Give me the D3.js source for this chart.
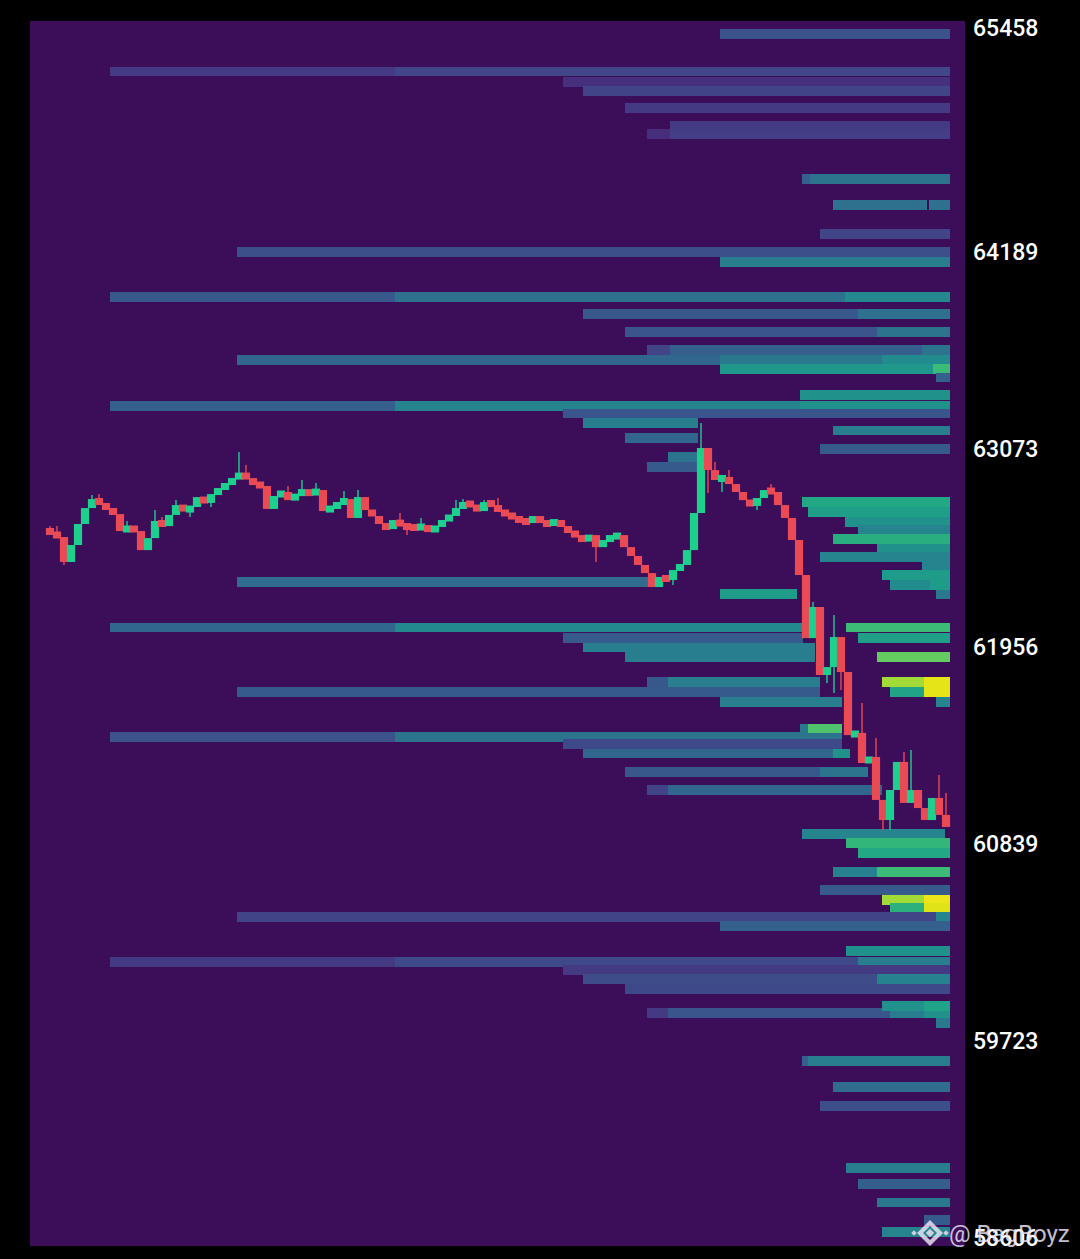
<!DOCTYPE html>
<html>
<head>
<meta charset="utf-8">
<script src="https://cdn.jsdelivr.net/npm/d3@7"></script>
<style>
  html, body { margin: 0; padding: 0; background: #000; }
  svg { display: block; }
</style>
</head>
<body>
<svg id="chart" width="1080" height="1259"></svg>
<script>
// ---------------- DATA ----------------
// Price axis tick labels
const priceTicks = [65458, 64189, 63073, 61956, 60839, 59723, 58606];

// Candles (one per time step)
const opens = [
  62612,62595,62572,62431,62527,62646,62736,62787,62759,62731,
  62702,62606,62629,62606,62498,62566,62663,62634,62697,62753,
  62719,62742,62798,62765,62815,62844,62872,62900,62934,62900,
  62872,62861,62731,62804,62827,62781,62815,62832,62815,62838,
  62719,62742,62759,62787,62680,62798,62725,62691,62646,62617,
  62668,62634,62629,62623,62634,62606,62629,62668,62691,62736,
  62765,62753,62719,62770,62753,62714,62702,62680,62663,62657,
  62685,62657,62640,62668,62629,62600,62578,62549,62583,62515,
  62555,62572,62583,62515,62465,62414,62368,62289,62346,62329,
  62385,62414,62498,62708,63076,62951,62895,62912,62872,62827,
  62781,62748,62793,62838,62827,62753,62680,62555,62357,62000,
  62176,61791,61836,62006,61808,61451,61463,61293,61327,61084,
  60970,61140,61299,61067,61140,61038,60970,61095,60999
];
const closes = [
  62595,62572,62431,62527,62646,62736,62787,62759,62731,62702,
  62606,62629,62606,62498,62566,62663,62634,62697,62753,62719,
  62742,62798,62765,62815,62844,62872,62900,62934,62900,62872,
  62861,62731,62804,62827,62781,62815,62832,62815,62838,62719,
  62742,62759,62787,62680,62798,62725,62691,62646,62617,62668,
  62634,62629,62623,62634,62606,62629,62668,62691,62736,62765,
  62753,62719,62770,62753,62714,62702,62680,62663,62657,62685,
  62657,62640,62668,62629,62600,62578,62549,62583,62515,62555,
  62572,62583,62515,62465,62414,62368,62289,62346,62329,62385,
  62414,62498,62708,63076,62951,62895,62912,62872,62827,62781,
  62748,62793,62838,62827,62753,62680,62555,62357,62000,62176,
  61791,61836,62006,61808,61451,61463,61293,61327,61084,60970,
  61140,61299,61067,61140,61038,60970,61095,60999,60931
];
// [candle index, wick high]
const upperWicks = [
  [0,62634],[1,62634],[6,62810],[7,62815],[11,62663],[15,62725],[16,62685],
  [18,62781],[27,63053],[28,62980],[34,62861],[36,62895],[38,62878],[42,62832],
  [44,62838],[50,62708],[53,62680],[58,62781],[59,62787],[62,62781],[64,62793],
  [93,63217],[95,62997],[97,62951],[103,62872],[109,62204],[112,62131],
  [116,61632],[118,61434],[122,61355],[123,61366],[127,61225],[128,61123]
];
// [candle index, wick low]
const lowerWicks = [
  [2,62414],[20,62685],[23,62742],[51,62583],[78,62431],[89,62300],[94,62821],
  [96,62827],[101,62725],[111,61746],[112,61689],[113,61706],[119,60914],[120,60914]
];

// Liquidation levels: [price level, from step, to step, intensity 0..1]
const liqUpper = [
  [65419, 96.2, 129, 0.25],
  [65207, 9, 49.8, 0.17], [65207, 49.8, 129, 0.21],
  [65150, 73.8, 129, 0.14],
  [65096, 76.6, 129, 0.20],
  [65000, 82.6, 129, 0.17],
  [64898, 89.1, 129, 0.17],
  [64853, 85.8, 89.1, 0.13], [64853, 89.1, 129, 0.18],
  [64601, 107.9, 109, 0.30], [64601, 109, 129, 0.38],
  [64451, 112.4, 125.8, 0.37], [64451, 126.1, 129, 0.37],
  [64287, 110.5, 129, 0.20],
  [64185, 27.2, 129, 0.24],
  [64131, 96.2, 129, 0.42],
  [63930, 9, 49.8, 0.27], [63930, 49.8, 114.1, 0.37], [63930, 114.1, 129, 0.47],
  [63837, 76.6, 115.9, 0.27], [63837, 115.9, 129, 0.37],
  [63735, 82.6, 118.6, 0.26], [63735, 118.6, 129, 0.38],
  [63633, 85.8, 89.1, 0.20], [63633, 89.1, 125.1, 0.30], [63633, 125.1, 129, 0.38],
  [63574, 27.2, 96.2, 0.33], [63574, 96.2, 119.4, 0.40], [63574, 119.4, 129, 0.48],
  [63523, 96.2, 126.6, 0.53], [63523, 126.6, 129, 0.68],
  [63475, 127, 129, 0.30],
  [63376, 107.6, 129, 0.50],
  [63314, 9, 49.8, 0.30], [63314, 49.8, 107.6, 0.45], [63314, 107.6, 129, 0.50],
  [63271, 73.8, 129, 0.26],
  [63217, 76.6, 93.1, 0.42],
  [63175, 112.4, 129, 0.42],
  [63132, 82.6, 93.1, 0.33],
  [63070, 110.5, 129, 0.28],
  [63025, 88.8, 93.1, 0.38],
  [62968, 85.8, 93.1, 0.28]
];
const liqMiddle = [
  [62770, 107.9, 129, 0.60],
  [62714, 108.8, 129, 0.56],
  [62657, 114.1, 129, 0.50],
  [62612, 115.9, 129, 0.45],
  [62561, 112.4, 129, 0.63],
  [62507, 118.6, 129, 0.50],
  [62459, 110.5, 129, 0.45],
  [62408, 125.1, 129, 0.45],
  [62357, 119.4, 129, 0.55],
  [62300, 120.5, 126.2, 0.48], [62300, 126.2, 129, 0.55],
  [62247, 127, 129, 0.40],
  [62315, 27.2, 86.3, 0.35],
  [62252, 96.2, 107.2, 0.55],
  [62060, 9, 49.8, 0.33], [62060, 49.8, 108.1, 0.47], [62060, 114.2, 129, 0.68],
  [62001, 73.8, 108.1, 0.28], [62001, 115.9, 129, 0.56],
  [61947, 76.6, 109.8, 0.42],
  [61893, 82.6, 109.8, 0.42], [61893, 118.6, 129, 0.76],
  [61752, 85.8, 88.8, 0.27], [61752, 88.8, 110.5, 0.42], [61752, 119.4, 125.4, 0.86], [61752, 125.4, 129, 0.96],
  [61695, 27.2, 110.5, 0.28], [61695, 120.5, 125.4, 0.58], [61695, 125.4, 129, 0.96],
  [61638, 96.2, 113.6, 0.42], [61638, 127, 129, 0.45],
  [61440, 9, 49.8, 0.25], [61440, 49.8, 113.6, 0.38],
  [61488, 107.6, 108.8, 0.40], [61488, 108.8, 113.6, 0.72],
  [61400, 73.8, 113.6, 0.22],
  [61347, 76.6, 112.4, 0.33], [61347, 112.4, 114.8, 0.50],
  [61242, 82.6, 110.5, 0.27], [61242, 110.5, 117.4, 0.38],
  [61140, 85.8, 88.8, 0.20], [61140, 88.8, 119.4, 0.33]
];
const liqLower = [
  [60891, 107.9, 128.3, 0.45],
  [60840, 114.2, 129, 0.66],
  [60783, 115.9, 129, 0.60],
  [60676, 112.4, 118.6, 0.44], [60676, 118.6, 129, 0.68],
  [60574, 110.5, 129, 0.28],
  [60520, 119.4, 125.4, 0.86], [60520, 125.4, 129, 0.97],
  [60475, 120.5, 125.4, 0.64], [60475, 125.4, 129, 0.95],
  [60421, 27.2, 127, 0.20], [60421, 127, 129, 0.45],
  [60370, 96.2, 129, 0.30],
  [60229, 114.2, 129, 0.50],
  [60167, 9, 49.8, 0.17], [60167, 49.8, 115.9, 0.22], [60167, 115.9, 129, 0.42],
  [60119, 73.8, 129, 0.17],
  [60068, 76.6, 118.6, 0.23], [60068, 118.6, 129, 0.44],
  [60014, 82.6, 129, 0.22],
  [59878, 85.8, 88.8, 0.17], [59878, 88.8, 120.5, 0.26], [59878, 120.5, 125.4, 0.42], [59878, 125.4, 129, 0.50],
  [59920, 119.4, 125.4, 0.50], [59920, 125.4, 129, 0.58],
  [59819, 127, 129, 0.40],
  [59606, 107.9, 108.8, 0.30], [59606, 108.8, 129, 0.42],
  [59459, 112.4, 129, 0.35],
  [59352, 110.5, 129, 0.24],
  [59000, 114.2, 129, 0.42],
  [58910, 115.9, 129, 0.30],
  [58805, 118.6, 129, 0.40],
  [58704, 125.4, 129, 0.28],
  [58638, 119.4, 129, 0.45]
];
const priceBin = 56;       // price height of one liquidation level
const watermark = "@ BagBoyz";

// ---------------- CHART ----------------
const svg = d3.select("#chart");
const plot = { left: 30, right: 965, top: 21, bottom: 1246 };

const y = d3.scaleLinear().domain([58559, 65493]).range([plot.bottom, plot.top]);
const x = d3.scaleLinear().domain([0, 129]).range([46.5, 949.5]);
const color = t => d3.interpolateViridis(t);

svg.append("rect").attr("width", 1080).attr("height", 1259).attr("fill", "#000");

const clipId = "plotclip";
svg.append("clipPath").attr("id", clipId).append("rect")
  .attr("x", plot.left).attr("y", plot.top)
  .attr("width", plot.right - plot.left).attr("height", plot.bottom - plot.top);

svg.append("rect")
  .attr("x", plot.left).attr("y", plot.top)
  .attr("width", plot.right - plot.left).attr("height", plot.bottom - plot.top)
  .attr("fill", "#3c0d59");

const g = svg.append("g").attr("clip-path", `url(#${clipId})`);

const cells = [...liqUpper, ...liqMiddle, ...liqLower];
g.append("g").selectAll("rect").data(cells).join("rect")
  .attr("x", d => x(d[1]))
  .attr("width", d => Math.max(0.5, x(d[2]) - x(d[1])))
  .attr("y", d => y(d[0] + priceBin / 2))
  .attr("height", d => y(d[0] - priceBin / 2) - y(d[0] + priceBin / 2))
  .attr("fill", d => color(d[3]))
  .attr("shape-rendering", "crispEdges");

// candles
const candles = opens.map((o, i) => ({
  i, o, c: closes[i], h: Math.max(o, closes[i]), l: Math.min(o, closes[i])
}));
upperWicks.forEach(([i, v]) => candles[i].h = v);
lowerWicks.forEach(([i, v]) => candles[i].l = v);

const up = "#1dd08e", down = "#ea4a54";
const minBody = 7;
const cg = g.append("g");
cg.selectAll("line").data(candles).join("line")
  .attr("x1", d => x(d.i + 0.5)).attr("x2", d => x(d.i + 0.5))
  .attr("y1", d => y(d.h)).attr("y2", d => y(d.l))
  .attr("stroke", d => d.c >= d.o ? up : down)
  .attr("stroke-width", 1.4);
cg.selectAll("rect").data(candles).join("rect")
  .attr("x", d => x(d.i) - 0.6)
  .attr("width", d => x(d.i + 1) - x(d.i) + 1.2)
  .attr("y", d => {
    const top = y(Math.max(d.o, d.c)), h = Math.abs(y(d.o) - y(d.c));
    return h < minBody ? top - (minBody - h) / 2 : top;
  })
  .attr("height", d => Math.max(minBody, Math.abs(y(d.o) - y(d.c))))
  .attr("fill", d => d.c >= d.o ? up : down);

// price axis on the right
const axis = d3.axisRight(y).tickValues(priceTicks).tickSize(0).tickPadding(8)
  .tickFormat(d3.format("d"));
const ag = svg.append("g").attr("transform", `translate(${plot.right},0)`).call(axis);
ag.select(".domain").remove();
ag.selectAll("text")
  .attr("fill", "#fff")
  .attr("font-family", "Roboto, 'DejaVu Sans', sans-serif")
  .attr("font-size", 23)
  .attr("font-weight", 500)
  .attr("dy", "0.36em");

// watermark
const wm = svg.append("g").attr("opacity", 0.85);
const lg = wm.append("g").attr("transform", "translate(930,1233)").attr("fill", "#e6e0f0");
lg.append("path").attr("d", "M0,-13 L13,0 L0,13 L-13,0 Z M0,-7 L-7,0 L0,7 L7,0 Z").attr("fill-rule", "evenodd");
lg.append("rect").attr("x", -3).attr("y", -3).attr("width", 6).attr("height", 6).attr("transform", "rotate(45)");
lg.append("rect").attr("x", -18).attr("y", -2).attr("width", 4).attr("height", 4).attr("transform", "rotate(45,-16,0)");
lg.append("rect").attr("x", 14).attr("y", -2).attr("width", 4).attr("height", 4).attr("transform", "rotate(45,16,0)");
wm.append("text").attr("x", 949).attr("y", 1242)
  .attr("fill", "#e6e0f0")
  .attr("font-family", "Roboto, 'DejaVu Sans', sans-serif")
  .attr("font-size", 24)
  .text(watermark);
</script>
</body>
</html>
